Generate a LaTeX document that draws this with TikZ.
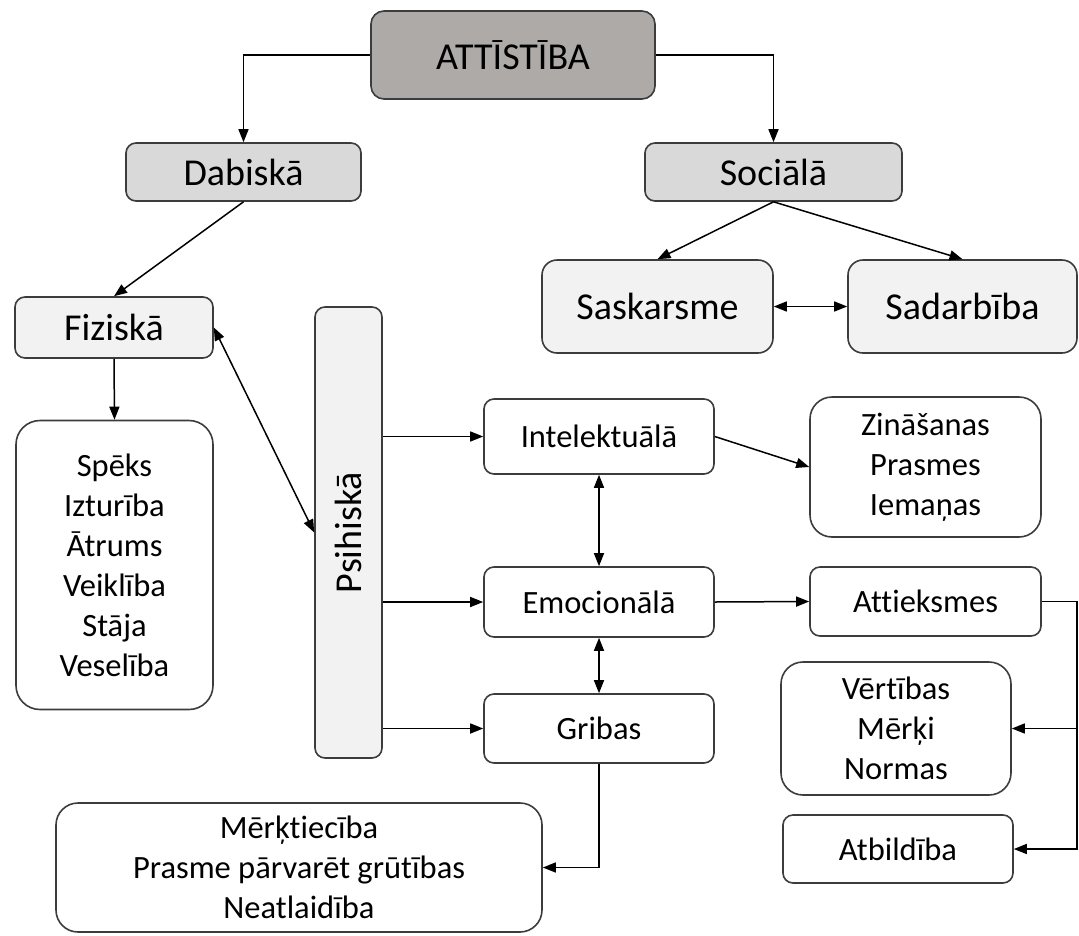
\documentclass[tikz,border=0pt]{standalone}
\usepackage{fontspec}
\setmainfont{Carlito}[Ligatures=NoCommon]
\usepackage{graphicx}
\usepackage{xcolor}
\usetikzlibrary{arrows.meta}

\definecolor{topgray}{RGB}{174,170,168}
\definecolor{midgray}{RGB}{217,217,217}
\definecolor{palegray}{RGB}{242,242,242}
\definecolor{edgegray}{RGB}{60,60,60}

\begin{document}
\begin{tikzpicture}[
x=1pt,y=-1pt,
>={Triangle[length=13pt,width=10pt]},
every node/.style={font=\fontsize{32.5}{40}\selectfont},
box/.style={draw=edgegray,line width=1.6pt,rounded corners=10pt,inner sep=0pt,align=center},
bigtext/.style={font=\fontsize{38}{44}\selectfont},
topbox/.style={box,fill=topgray,bigtext,rounded corners=13pt},
levelbox/.style={box,fill=midgray,bigtext},
subbox/.style={box,fill=palegray,bigtext},
leafbox/.style={box,fill=white},
listbox/.style={box,fill=white,rounded corners=24pt},
link/.style={line width=1.5pt,black}
]
\useasboundingbox (0,0) rectangle (1079,935);

% Top levels
\node[topbox,minimum width=284pt,minimum height=88pt] (top) at (513,55) {ATTĪSTĪBA};
\node[levelbox,minimum width=235pt,minimum height=58pt] (dab) at (243.5,172) {Dabiskā};
\node[levelbox,minimum width=257pt,minimum height=58pt] (soc) at (773.5,172) {Sociālā};

% Social branch
\node[subbox,rounded corners=15pt,minimum width=231pt,minimum height=93pt] (sask) at (657.5,306.5) {Saskarsme};
\node[subbox,rounded corners=15pt,minimum width=229pt,minimum height=93pt] (sadar) at (962.5,306.5) {Sadarbība};

% Natural branch
\node[subbox,minimum width=198pt,minimum height=61pt] (fiz) at (114,327.5) {Fiziskā};
\node[listbox,minimum width=197pt,minimum height=289pt] (fizlist) at (114.5,565) {Spēks\\Izturība\\Ātrums\\Veiklība\\Stāja\\Veselība};
\node[subbox,minimum width=67pt,minimum height=451pt] (psih) at (348.5,532.5) {\rotatebox{90}{Psihiskā}};

% Psychic parts
\node[leafbox,minimum width=230pt,minimum height=75pt] (intel) at (599,436.5) {Intelektuālā};
\node[leafbox,minimum width=230pt,minimum height=70pt] (emoc) at (599,602) {Emocionālā};
\node[leafbox,minimum width=230pt,minimum height=69pt] (grib) at (599,728.5) {Gribas};

\node[listbox,rounded corners=22pt,minimum width=231pt,minimum height=140pt] (zin) at (925.5,467) {Zināšanas\\Prasmes\\Iemaņas};
\node[leafbox,minimum width=231pt,minimum height=69pt] (att) at (925.5,601.5) {Attieksmes};
\node[listbox,rounded corners=22pt,minimum width=230pt,minimum height=133pt] (vert) at (896,728.5) {Vērtības\\Mērķi\\Normas};
\node[leafbox,minimum width=230pt,minimum height=68pt] (atb) at (898,849) {Atbildība};
\node[listbox,rounded corners=22pt,minimum width=486pt,minimum height=129pt] (gribl) at (299,867.5) {Mērķtiecība\\Prasme pārvarēt grūtības\\Neatlaidība};

\coordinate (rside) at (1077,601.5);

% Connectors
\draw[link,->] (top.west) -| (dab.north);
\draw[link,->] (top.east) -| (soc.north);
\draw[link,->] (dab.south) -- (fiz.north);
\draw[link,->] (soc.south) -- (sask.north);
\draw[link,->] (soc.south) -- (sadar.north);
\draw[link,<->] (sask.east) -- (sadar.west);

\draw[link,->] (fiz.south) -- (fizlist.north);
\draw[link,<->] (fiz.east) -- (psih.west);

\draw[link,->] (psih.east |- intel.west) -- (intel.west);
\draw[link,->] (psih.east |- emoc.west) -- (emoc.west);
\draw[link,->] (psih.east |- grib.west) -- (grib.west);
\draw[link,<->] (intel.south) -- (emoc.north);
\draw[link,<->] (emoc.south) -- (grib.north);

\draw[link,->] (intel.east) -- (zin.west);
\draw[link,->] (emoc.east) -- (att.west);
\draw[link,->] (att.east) -- (rside) |- (atb.east);
\draw[link,->] (rside |- vert.east) -- (vert.east);
\draw[link,->] (grib.south) |- (gribl.east);

\end{tikzpicture}
\end{document}
